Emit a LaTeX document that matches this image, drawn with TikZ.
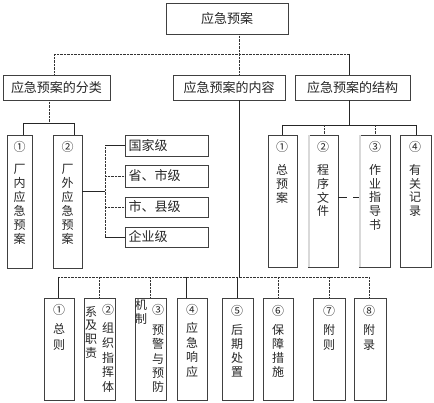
\documentclass[tikz,border=0pt]{standalone}
\usepackage{fontspec}
\setmainfont{Noto Sans CJK SC}
\newcommand{\vcol}[5]{\foreach \chr [count=\i from 0] in {#5}{\node[ch] (#1\i) at (#2,{#3+\i*#4}) {\chr};}}
\begin{document}
\begin{tikzpicture}[x=1pt,y=-1pt,
 box/.style={draw=black!75, line width=0.7pt, inner sep=0pt, fill=white},
 dotline/.style={draw=black!80, line width=0.7pt, dash pattern=on 0.7pt off 0.7pt},
 solline/.style={draw=black!85, line width=0.7pt},
 txt/.style={font=\fontsize{13}{15}\selectfont, text=black!85},
 ch/.style={font=\fontsize{12}{14}\selectfont, text=black!85, inner sep=0pt, anchor=center},
 vbox/.style={box, minimum height=#1},
]
\useasboundingbox (0,0) rectangle (434,403);

% top level
\node[box, txt, minimum width=122pt, minimum height=31pt] (top) at (227,18.5) {应急预案};
\node[box, txt, minimum width=107pt, minimum height=25pt] (A) at (56.5,87.5) {应急预案的分类};
\node[box, txt, minimum width=112pt, minimum height=25pt] (B) at (229,87.5) {应急预案的内容};
\node[box, txt, minimum width=115pt, minimum height=25pt] (C) at (352.5,87.5) {应急预案的结构};

\coordinate (j0) at (239,54);
\coordinate (jA) at (54,54);
\coordinate (jC) at (349,54);
\draw[dotline] (top.south -| j0) -- (j0);
\draw[dotline] (jA) -- (jC);
\draw[dotline] (jA) -- (A.north -| jA);
\draw[dotline] (j0) -- (B.north -| j0);
\draw[solline] (jC) -- (C.north -| jC);

% classification
\node[box, minimum width=25pt, minimum height=133pt] (a1) at (19.5,201.5) {};
\node[box, minimum width=29pt, minimum height=133pt] (a2) at (67.5,201.5) {};
\node[ch] (a1n) at (19.5,147) {①};
\vcol{a1c}{19.5}{169}{14}{厂,内,应,急,预,案}
\node[ch] (a2n) at (67.5,147) {②};
\vcol{a2c}{67.5}{169}{14}{厂,外,应,急,预,案}

\coordinate (ja) at (49,123);
\coordinate (ja1) at (23,123);
\coordinate (ja2) at (74,123);
\draw[dotline] (A.south -| ja) -- (ja);
\draw[solline] (ja1) -- (ja2);
\draw[solline] (ja1) -- (a1.north -| ja1);
\draw[solline] (ja2) -- (a2.north -| ja2);

\node[box, txt, minimum width=83pt, minimum height=21pt, text width=76pt, align=left] (l1) at (166.5,145.5) {国家级};
\node[box, txt, minimum width=83pt, minimum height=22pt, text width=76pt, align=left] (l2) at (166.5,176) {省、市级};
\node[box, txt, minimum width=83pt, minimum height=20pt, text width=76pt, align=left] (l3) at (166.5,207) {市、县级};
\node[box, txt, minimum width=83pt, minimum height=20pt, text width=76pt, align=left] (l4) at (166.5,237) {企业级};

\coordinate (jl) at (105,191);
\draw[solline] (a2.east |- jl) -- (jl);
\draw[dotline] (l1.west -| jl) -- (l4.west -| jl);
\draw[solline] (l1.west -| jl) -- (l1.west);
\draw[dotline] (l2.west -| jl) -- (l2.west);
\draw[dotline] (l3.west -| jl) -- (l3.west);
\draw[solline] (l4.west -| jl) -- (l4.west);

% structure
\node[box, minimum width=29pt, minimum height=132pt] (s1) at (282.5,201) {};
\node[box, minimum width=30pt, minimum height=132pt] (s2) at (323,201) {};
\node[box, minimum width=31pt, minimum height=132pt] (s3) at (374.5,201) {};
\node[box, minimum width=31pt, minimum height=132pt] (s4) at (415.5,201) {};
\fill[black!15] ([xshift=0.4pt,yshift=-0.4pt]s2.north west) rectangle ([xshift=2.5pt,yshift=0.4pt]s2.south west);
\fill[black!15] ([xshift=0.4pt,yshift=-0.4pt]s3.north west) rectangle ([xshift=2.5pt,yshift=0.4pt]s3.south west);
\node[ch] (s1n) at (282,147) {①};
\vcol{s1c}{282}{170}{14}{总,预,案}
\node[ch] (s2n) at (323,147) {②};
\vcol{s2c}{323}{170}{13.7}{程,序,文,件}
\node[ch] (s3n) at (375,147) {③};
\vcol{s3c}{375}{170}{13.7}{作,业,指,导,书}
\node[ch] (s4n) at (415,147) {④};
\vcol{s4c}{415}{170}{13.7}{有,关,记,录}

\coordinate (jc) at (349,125);
\coordinate (jc1) at (282,125);
\coordinate (jc2) at (324,125);
\coordinate (jc3) at (375,125);
\coordinate (jc4) at (416,125);
\draw[solline] (C.south -| jc) -- (jc);
\draw[solline] (jc1) -- (jc4);
\draw[solline] (jc1) -- (s1.north -| jc1);
\draw[dotline] (jc2) -- (s2.north -| jc2);
\draw[dotline] (jc3) -- (s3.north -| jc3);
\draw[solline] (jc4) -- (s4.north -| jc4);
\coordinate (dy) at (0,197);
\draw[solline, dash pattern=on 9pt off 6pt] (s2.east |- dy) -- (s3.west |- dy);

% content
\node[box, minimum width=30pt, minimum height=102pt] (b1) at (59,349) {};
\node[box, minimum width=31pt, minimum height=102pt] (b2) at (99.5,349) {};
\node[box, minimum width=31pt, minimum height=102pt] (b3) at (150.5,349) {};
\node[box, minimum width=30pt, minimum height=102pt] (b4) at (192,349) {};
\node[box, minimum width=31pt, minimum height=102pt] (b5) at (237.5,349) {};
\node[box, minimum width=30pt, minimum height=102pt] (b6) at (278,349) {};
\node[box, minimum width=32pt, minimum height=102pt] (b7) at (329,349) {};
\node[box, minimum width=32pt, minimum height=102pt] (b8) at (370,349) {};

\node[ch] (b1n) at (59,310) {①};
\vcol{b1c}{59}{329}{16}{总,则}
\node[ch] (b2n) at (108,310) {②};
\vcol{b2c}{108}{328}{14.8}{组,织,指,挥,体}
\vcol{b2d}{91}{312}{13.6}{系,及,职,责}
\node[ch] (b3n) at (158,310) {③};
\vcol{b3c}{158}{330}{14.3}{预,警,与,预,防}
\vcol{b3d}{141}{305}{13.5}{机,制}
\node[ch] (b4n) at (192,310) {④};
\vcol{b4c}{192}{328}{14.6}{应,急,响,应}
\node[ch] (b5n) at (237,311) {⑤};
\vcol{b5c}{237}{330}{14}{后,期,处,置}
\node[ch] (b6n) at (278,311) {⑥};
\vcol{b6c}{278}{330}{14}{保,障,措,施}
\node[ch] (b7n) at (329,311) {⑦};
\vcol{b7c}{329}{330}{15}{附,则}
\node[ch] (b8n) at (369,311) {⑧};
\vcol{b8c}{369}{330}{15}{附,录}

\coordinate (jb) at (239,277);
\draw[solline] (B.south -| jb) -- (jb);
\coordinate (jb1) at (58,277);
\coordinate (jb2) at (99,277);
\coordinate (jb3) at (150,277);
\coordinate (jb4) at (186,277);
\coordinate (jb5) at (237,277);
\coordinate (jb6) at (278,277);
\coordinate (jb7) at (329,277);
\coordinate (jb8) at (369,277);
\draw[dotline] (jb1) -- (jb8);
\draw[solline] (jb1) -- (b1.north -| jb1);
\draw[dotline] (jb2) -- (b2.north -| jb2);
\draw[dotline] (jb3) -- (b3.north -| jb3);
\draw[solline] (jb4) -- (b4.north -| jb4);
\draw[solline] (jb5) -- (b5.north -| jb5);
\draw[dotline] (jb6) -- (b6.north -| jb6);
\draw[dotline] (jb7) -- (b7.north -| jb7);
\draw[dotline] (jb8) -- (b8.north -| jb8);
\end{tikzpicture}
\end{document}
